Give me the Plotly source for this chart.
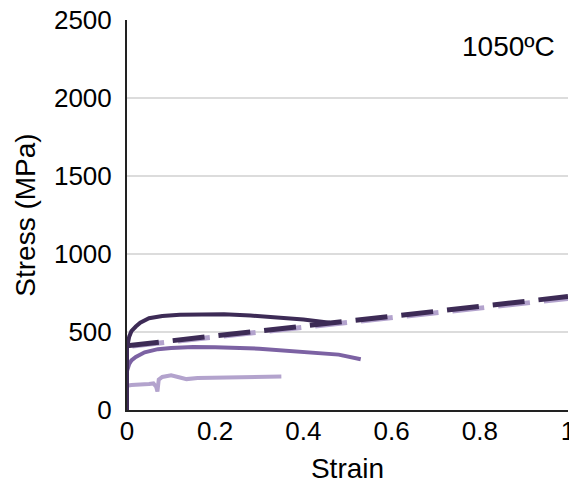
import plotly.graph_objects as go

# Data
dark_strain = [0, 0.0, 0.005, 0.01, 0.02, 0.03, 0.05, 0.08, 0.12, 0.17, 0.22, 0.28, 0.34, 0.40, 0.46]
dark_stress = [0, 400, 470, 505, 535, 560, 588, 603, 611, 614, 613, 606, 595, 580, 560]

mid_strain = [0, 0.0, 0.005, 0.01, 0.02, 0.04, 0.07, 0.1, 0.15, 0.2, 0.3, 0.4, 0.48, 0.53]
mid_stress = [0, 250, 295, 318, 340, 370, 390, 398, 404, 403, 393, 375, 355, 325]

light_strain = [0, 0.0, 0.01, 0.03, 0.05, 0.06, 0.066, 0.069, 0.072, 0.08, 0.1, 0.12, 0.135, 0.16, 0.2, 0.25, 0.3, 0.35]
light_stress = [0, 155, 160, 160, 166, 170, 150, 118, 195, 212, 222, 208, 198, 205, 208, 212, 215, 214]

dash_dark_strain = [0, 1.0]
dash_dark_stress = [412, 727]
dash_light_strain = [0.012, 1.0]
dash_light_stress = [410, 715]

c_dark = "#3d2b56"
c_mid = "#7c62a3"
c_light = "#b3a3cd"

fig = go.Figure()
fig.add_trace(go.Scatter(x=light_strain, y=light_stress, mode="lines", cliponaxis=False,
                         line=dict(color=c_light, width=4), showlegend=False))
fig.add_trace(go.Scatter(x=mid_strain, y=mid_stress, mode="lines", cliponaxis=False,
                         line=dict(color=c_mid, width=4), showlegend=False))
fig.add_trace(go.Scatter(x=dash_light_strain, y=dash_light_stress, mode="lines",
                         line=dict(color=c_light, width=5, dash="32px,14px"), showlegend=False))
fig.add_trace(go.Scatter(x=dark_strain, y=dark_stress, mode="lines", cliponaxis=False,
                         line=dict(color=c_dark, width=4), showlegend=False))
fig.add_trace(go.Scatter(x=dash_dark_strain, y=dash_dark_stress, mode="lines",
                         line=dict(color=c_dark, width=5, dash="32px,14px"), showlegend=False))

fig.add_annotation(text="1050ºC", xref="paper", yref="paper", x=0.975, y=0.933,
                   xanchor="right", yanchor="middle", showarrow=False,
                   font=dict(size=28, color="black"))

# page body has an 8px margin, so the figure is sized/margined to compensate
fig.update_layout(
    width=569, height=479,
    margin=dict(l=119, r=9, t=12, b=77),
    plot_bgcolor="white", paper_bgcolor="white",
    font=dict(family="Liberation Sans, Arial, sans-serif", color="black"),
    xaxis=dict(range=[0, 1], tickvals=[0, 0.2, 0.4, 0.6, 0.8, 1],
               ticktext=["0", "0.2", "0.4", "0.6", "0.8", "1"], automargin=False,
               ticklabeloverflow="allow",
               showgrid=False, zeroline=False, showline=True, linecolor="#222222", linewidth=2,
               ticks="", tickfont=dict(size=26), ticklabelstandoff=-3,
               title=dict(text="Strain", font=dict(size=28), standoff=13)),
    yaxis=dict(range=[0, 2500], tickvals=[0, 500, 1000, 1500, 2000, 2500], automargin=False,
               ticklabeloverflow="allow",
               showgrid=True, gridcolor="#dcdcdc", gridwidth=2, zeroline=False,
               showline=True, linecolor="#222222", linewidth=2,
               ticks="", tickfont=dict(size=26), ticklabelstandoff=8,
               title=dict(text="Stress (MPa)", font=dict(size=28), standoff=10)),
)

fig.write_html("out.html")
